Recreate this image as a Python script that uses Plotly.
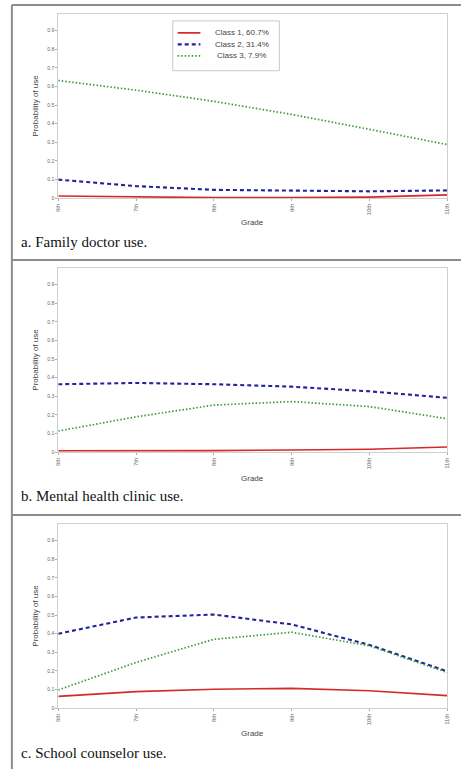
import plotly.graph_objects as go

grades = ["6th", "7th", "8th", "9th", "10th", "11th"]
class_names = ["Class 1, 60.7%", "Class 2, 31.4%", "Class 3, 7.9%"]
panel_captions = ["a. Family doctor use.", "b. Mental health clinic use.", "c. School counselor use."]

# Panel a: family doctor use
fam_c1 = [0.012, 0.006, 0.003, 0.003, 0.006, 0.018]
fam_c2 = [0.100, 0.065, 0.045, 0.040, 0.037, 0.042]
fam_c3 = [0.632, 0.580, 0.520, 0.450, 0.370, 0.288]

# Panel b: mental health clinic use
mh_c1 = [0.008, 0.007, 0.009, 0.012, 0.016, 0.028]
mh_c2 = [0.365, 0.372, 0.365, 0.352, 0.327, 0.292]
mh_c3 = [0.114, 0.190, 0.253, 0.272, 0.245, 0.180]

# Panel c: school counselor use
sc_c1 = [0.064, 0.089, 0.102, 0.107, 0.094, 0.068]
sc_c2 = [0.400, 0.487, 0.503, 0.450, 0.340, 0.198]
sc_c3 = [0.098, 0.246, 0.370, 0.408, 0.335, 0.192]

yticks = [0, 0.1, 0.2, 0.3, 0.4, 0.5, 0.6, 0.7, 0.8, 0.9]
yticklabels = ["0", "0.1", "0.2", "0.3", "0.4", "0.5", "0.6", "0.7", "0.8", "0.9"]

panels = [
    (fam_c1, fam_c2, fam_c3),
    (mh_c1, mh_c2, mh_c3),
    (sc_c1, sc_c2, sc_c3),
]

W, H = 464, 772
# plot-area pixel boxes (top, bottom) per panel
boxes = [(14, 199), (269, 454), (526, 711)]
grade_y = [223, 480, 736]
caption_y = [243, 498, 756]
xl, xr = 56, 450

styles = [
    dict(color="#d42a2a", width=1.7, dash="solid"),
    dict(color="#23239a", width=2.1, dash="4px,3px"),
    dict(color="#3a9a3a", width=1.7, dash="1.5px,2px"),
]

fig = go.Figure()
x_idx = list(range(len(grades)))
for p, series in enumerate(panels):
    for k, vals in enumerate(series):
        fig.add_trace(go.Scatter(
            x=x_idx, y=vals, mode="lines", name=class_names[k],
            line=styles[k], showlegend=False,
            xaxis="x" if p == 0 else f"x{p+1}",
            yaxis="y" if p == 0 else f"y{p+1}",
        ))

layout = dict(
    width=W, height=H, margin=dict(l=0, r=0, t=0, b=0),
    paper_bgcolor="white", plot_bgcolor="white",
    font=dict(family="Liberation Sans, Arial, sans-serif", color="#444"),
    showlegend=False,
)

annotations = []
for p, (top, bot) in enumerate(boxes):
    sfx = "" if p == 0 else str(p + 1)
    layout[f"xaxis{sfx}"] = dict(
        domain=[xl / W, xr / W], range=[0, 5], anchor=f"y{sfx}",
        tickvals=x_idx, ticktext=grades, tickangle=-90,
        tickfont=dict(size=6, color="#666"), ticks="outside", ticklen=2,
        tickcolor="#aaa", showline=True, linecolor="#cfcfcf", mirror=True,
        showgrid=False, zeroline=False, fixedrange=True,
    )
    layout[f"yaxis{sfx}"] = dict(
        domain=[1 - bot / H, 1 - top / H], range=[0, (bot - top) / 187.0],
        anchor=f"x{sfx}", tickvals=yticks, ticktext=yticklabels,
        tickfont=dict(size=5, color="#666"), ticks="outside", ticklen=2,
        tickcolor="#aaa", showline=True, linecolor="#cfcfcf", mirror=True,
        showgrid=False, zeroline=False, fixedrange=True,
    )
    annotations.append(dict(
        text="Probability of use", xref="paper", yref="paper",
        x=33 / W, y=1 - (top + bot) / 2 / H, textangle=-90, showarrow=False,
        font=dict(size=8, color="#444"), xanchor="center", yanchor="middle",
    ))
    annotations.append(dict(
        text="Grade", xref="paper", yref="paper",
        x=(xl + xr) / 2 / W, y=1 - grade_y[p] / H, showarrow=False,
        font=dict(size=8, color="#444"), xanchor="center", yanchor="middle",
    ))
    annotations.append(dict(
        text=panel_captions[p], xref="paper", yref="paper",
        x=16 / W, y=1 - caption_y[p] / H, showarrow=False,
        font=dict(size=15, color="#111", family="Liberation Serif, Times New Roman, serif"),
        xanchor="left", yanchor="middle",
    ))

# Legend (drawn as a box with line samples and text labels)
leg_left, leg_right, leg_top, leg_bot = 172, 280, 21, 71
row_y = [33, 44.5, 56]
sample_x0, sample_x1 = 177, 200
text_cx = 242

shapes = []
shapes.append(dict(type="rect", xref="paper", yref="paper",
                   x0=leg_left / W, x1=leg_right / W,
                   y0=1 - leg_bot / H, y1=1 - leg_top / H,
                   line=dict(color="#c8c8c8", width=1), fillcolor="white", layer="above"))
for k in range(3):
    shapes.append(dict(type="line", xref="paper", yref="paper",
                       x0=sample_x0 / W, x1=sample_x1 / W,
                       y0=1 - row_y[k] / H, y1=1 - row_y[k] / H,
                       line=styles[k], layer="above"))
    annotations.append(dict(
        text=class_names[k], xref="paper", yref="paper",
        x=text_cx / W, y=1 - row_y[k] / H, showarrow=False,
        font=dict(size=8, color="#444"), xanchor="center", yanchor="middle",
    ))

layout["annotations"] = annotations

border = dict(color="#8c8c8c", width=2)
for yy in [5, 261, 517]:
    shapes.append(dict(type="line", xref="paper", yref="paper",
                       x0=9 / W, x1=1, y0=1 - yy / H, y1=1 - yy / H, line=border))
shapes.append(dict(type="line", xref="paper", yref="paper",
                   x0=9 / W, x1=9 / W, y0=0, y1=1 - 5 / H, line=border))
layout["shapes"] = shapes

fig.update_layout(**layout)
fig.write_html("out.html", config={"displayModeBar": False},
               post_script="document.body.style.margin='0';")
